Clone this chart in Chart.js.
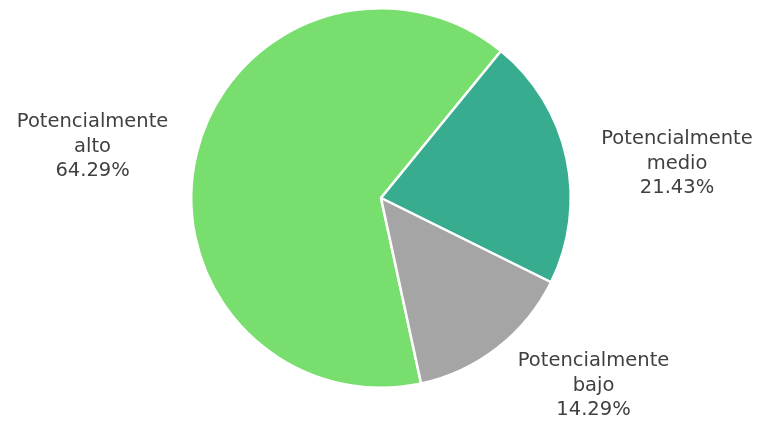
<!DOCTYPE html>
<html>
<head>
<meta charset="utf-8">
<script src="https://cdn.jsdelivr.net/npm/chart.js@4"></script>
<style>
  html, body { margin: 0; padding: 0; background: #fff; }
  #wrap { width: 758px; height: 424px; position: relative; }
</style>
</head>
<body>
<div id="wrap"><canvas id="pieChart"></canvas></div>
<script>
const categories = ["Potencialmente alto", "Potencialmente medio", "Potencialmente bajo"];
const labelLines = [["Potencialmente", "alto"], ["Potencialmente", "medio"], ["Potencialmente", "bajo"]];
const percentages = [64.29, 21.43, 14.29];
const colors = ["#78DE6E", "#37AC8F", "#A5A5A5"];

// label anchor, relative to pie centre, in units of the radius
const labelAnchors = [[-1.52, -0.27], [1.56, -0.18], [1.12, 0.99]];

const outsideLabels = {
  id: "outsideLabels",
  afterDatasetsDraw(chart) {
    const ctx = chart.ctx;
    const meta = chart.getDatasetMeta(0);
    ctx.save();
    ctx.font = "19.5px 'Century Gothic', 'DejaVu Sans', sans-serif";
    ctx.fillStyle = "#404040";
    ctx.textAlign = "center";
    ctx.textBaseline = "middle";
    meta.data.forEach((arc, i) => {
      const r = arc.outerRadius;
      const x = arc.x + labelAnchors[i][0] * r;
      const y = arc.y + labelAnchors[i][1] * r;
      const lines = labelLines[i].concat([percentages[i].toFixed(2) + "%"]);
      const lh = 24.5;
      lines.forEach((t, j) => {
        ctx.fillText(t, x, y + (j - (lines.length - 1) / 2) * lh);
      });
    });
    ctx.restore();
  },
};

new Chart(document.getElementById("pieChart"), {
  type: "pie",
  data: {
    labels: categories,
    datasets: [
      {
        data: percentages,
        backgroundColor: colors,
        borderColor: "#ffffff",
        borderWidth: 2.5,
      },
    ],
  },
  options: {
    responsive: true,
    maintainAspectRatio: false,
    animation: false,
    rotation: 167.8,
    layout: { padding: { top: 7, bottom: 35, left: 4, right: 0 } },
    plugins: {
      legend: { display: false },
      tooltip: { enabled: false },
    },
  },
  plugins: [outsideLabels],
});
</script>
</body>
</html>
